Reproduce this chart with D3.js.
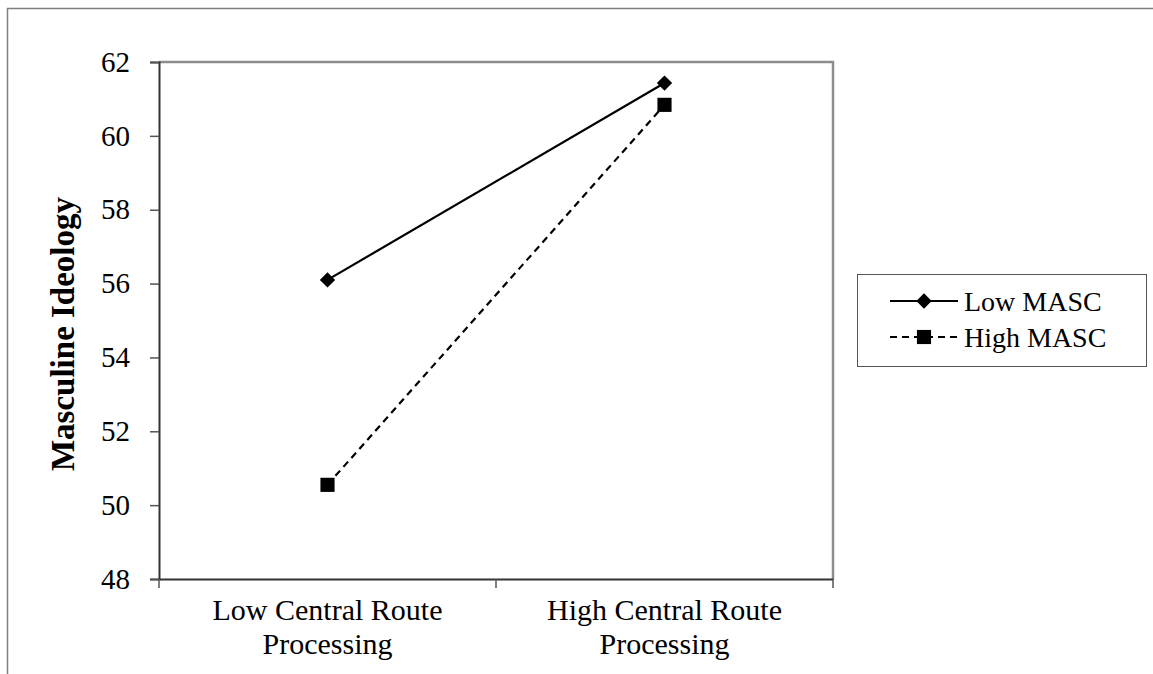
<!DOCTYPE html>
<html>
<head>
<meta charset="utf-8">
<script src="https://cdn.jsdelivr.net/npm/d3@7"></script>
<style>
  html, body { margin: 0; padding: 0; background: #fff; }
  svg { display: block; }
  text { font-family: "Liberation Serif", "Times New Roman", serif; fill: #000; }
</style>
</head>
<body>
<svg id="chart" width="1153" height="674"></svg>
<script>
// ---- data ----
const categories = ["Low Central Route Processing", "High Central Route Processing"];
const categoryLines = [["Low Central Route", "Processing"], ["High Central Route", "Processing"]];
const seriesNames = ["Low MASC", "High MASC"];
const lowMASC = [56.1, 61.43];
const highMASC = [50.55, 60.84];
const yTicks = [48, 50, 52, 54, 56, 58, 60, 62];
const yTitle = "Masculine Ideology";

// ---- layout ----
const svg = d3.select("#chart");
const L = 159, R = 833, T = 62, B = 579;

const x = d3.scaleBand().domain(categories).range([L, R]).padding(0);
const y = d3.scaleLinear().domain([48, 62]).range([B, T]);

// outer frame
svg.append("rect").attr("x", 7.5).attr("y", 8.5).attr("width", 1300).attr("height", 1000)
  .attr("fill", "none").attr("stroke", "#7f7f7f").attr("stroke-width", 1.5);

// plot-area top & right (gray)
svg.append("path")
  .attr("d", `M${L},${T}H${R}V${B}`)
  .attr("fill", "none").attr("stroke", "#8c8c8c").attr("stroke-width", 2.5);

// y axis
const yAxis = d3.axisLeft(y).tickValues(yTicks).tickSize(9).tickPadding(20).tickFormat(d3.format("d"));
const gy = svg.append("g").attr("transform", `translate(${L},0)`).call(yAxis);
gy.select(".domain").attr("stroke", "#333").attr("stroke-width", 2);
gy.selectAll(".tick line").attr("stroke", "#555").attr("stroke-width", 1.5);
gy.selectAll(".tick text").attr("font-size", 29).attr("fill", "#000");

// x axis
const xAxis = d3.axisBottom(x).tickSize(0).tickFormat("");
const gx = svg.append("g").attr("transform", `translate(0,${B})`).call(xAxis);
gx.select(".domain").attr("stroke", "#333").attr("stroke-width", 2);
// tick marks at band boundaries
const bounds = [L, L + x.bandwidth(), R];
gx.selectAll(".bt").data(bounds).enter().append("line")
  .attr("x1", d => d).attr("x2", d => d).attr("y1", 0).attr("y2", 9)
  .attr("stroke", "#555").attr("stroke-width", 1.5);

// category labels
categories.forEach((c, i) => {
  const cx = x(c) + x.bandwidth() / 2;
  categoryLines[i].forEach((ln, j) => {
    svg.append("text").attr("text-anchor", "middle").attr("font-size", 30)
      .attr("x", cx).attr("y", 620 + j * 34).text(ln);
  });
});

// y title
svg.append("text")
  .attr("transform", `translate(74,334) rotate(-90)`)
  .attr("text-anchor", "middle").attr("font-size", 33).attr("font-weight", "bold")
  .text(yTitle);

// lines
const cxOf = i => x(categories[i]) + x.bandwidth() / 2;
const line = d3.line().x((d, i) => cxOf(i)).y(d => y(d));
svg.append("path").datum(lowMASC).attr("d", line)
  .attr("fill", "none").attr("stroke", "#000").attr("stroke-width", 2.2);
svg.append("path").datum(highMASC).attr("d", line)
  .attr("fill", "none").attr("stroke", "#000").attr("stroke-width", 2.2).attr("stroke-dasharray", "7,5");

const diamond = d3.symbol().type(d3.symbolDiamond2).size(150);
const square = d3.symbol().type(d3.symbolSquare).size(200);

svg.selectAll(".dm").data(lowMASC).enter().append("path")
  .attr("d", diamond).attr("transform", (d, i) => `translate(${cxOf(i)},${y(d)})`).attr("fill", "#000");
svg.selectAll(".sq").data(highMASC).enter().append("path")
  .attr("d", square).attr("transform", (d, i) => `translate(${cxOf(i)},${y(d)})`).attr("fill", "#000");

// legend
const lg = svg.append("g");
lg.append("rect").attr("x", 857.5).attr("y", 274.5).attr("width", 289).attr("height", 92)
  .attr("fill", "none").attr("stroke", "#555").attr("stroke-width", 1);
const legY = [301, 337];
seriesNames.forEach((s, i) => {
  const ly = legY[i];
  lg.append("line").attr("x1", 890).attr("x2", 958).attr("y1", ly).attr("y2", ly)
    .attr("stroke", "#000").attr("stroke-width", 2.2)
    .attr("stroke-dasharray", i === 1 ? "7,5" : null);
  lg.append("path").attr("d", i === 0 ? diamond : square)
    .attr("transform", `translate(924,${ly})`).attr("fill", "#000");
  lg.append("text").attr("x", 964).attr("y", ly + 10).attr("font-size", 28).text(s);
});
</script>
</body>
</html>
